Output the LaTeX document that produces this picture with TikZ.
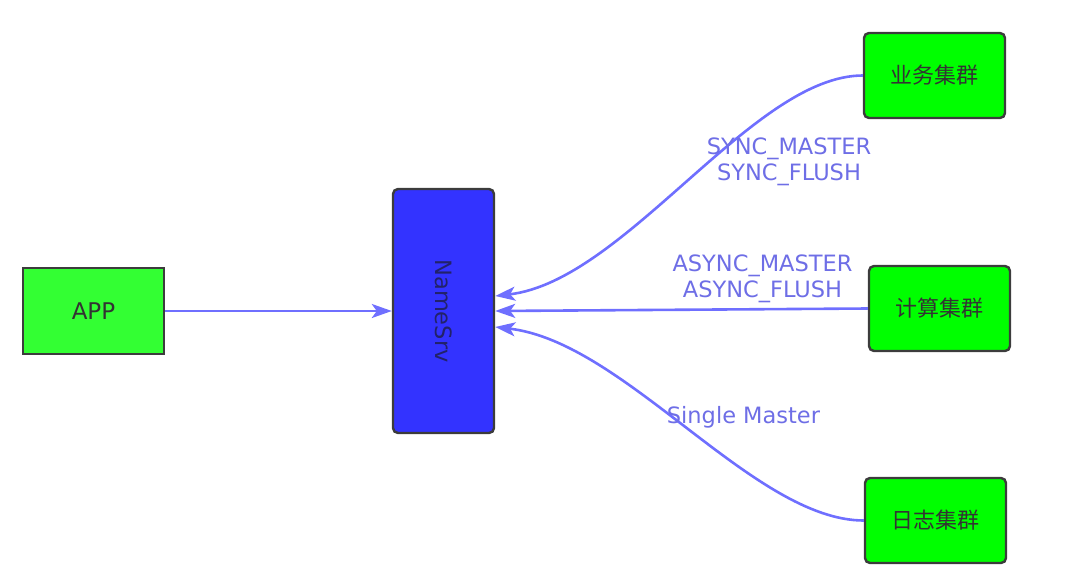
\documentclass[tikz,border=0pt]{standalone}
\usepackage{fontspec}
\usepackage{graphicx}
\setmainfont{DejaVu Sans}
\newfontfamily\cjkfont{Noto Sans CJK SC}
\usetikzlibrary{arrows.meta,calc}
\definecolor{mqGreen}{HTML}{00FF00}
\definecolor{mqAppGreen}{HTML}{33FF33}
\definecolor{mqBlue}{HTML}{3333FF}
\definecolor{mqLine}{HTML}{6F6FFF}
\definecolor{mqLabel}{HTML}{6E6EE6}
\definecolor{mqBorder}{HTML}{3C3C3C}
\definecolor{mqText}{HTML}{333333}
\definecolor{mqSrvText}{HTML}{22226A}
\tikzset{
  clusterbox/.style={rectangle, rounded corners=5pt, draw=mqBorder, fill=mqGreen, line width=2.4pt,
    minimum width=141pt, minimum height=85pt, font=\cjkfont\fontsize{22}{26}\selectfont, text=mqText, inner sep=0pt},
  appbox/.style={rectangle, draw=mqBorder, fill=mqAppGreen, line width=2.4pt,
    minimum width=141pt, minimum height=86pt, font=\fontsize{23}{27}\selectfont, text=mqText},
  srvbox/.style={rectangle, rounded corners=5pt, draw=mqBorder, fill=mqBlue, line width=2.4pt,
    minimum width=101pt, minimum height=244pt, font=\fontsize{22.5}{26}\selectfont, text=mqSrvText},
  linkline/.style={-{Stealth[length=20pt, width=14pt, inset=5pt]}, draw=mqLine, line width=2.6pt},
  linklab/.style={font=\fontsize{22.5}{25.5}\selectfont, text=mqLabel, align=center, inner sep=0pt}
}
\begin{document}
\begin{tikzpicture}[x=1pt, y=-1pt]
\useasboundingbox (0,0) rectangle (1080,579);
\node[appbox] (app) at (93.5,311) {APP};
\node[srvbox] (ns) at (443.5,311) {\rotatebox{-90}{NameSrv}};
\node[clusterbox] (biz) at (934.5,75.5) {业务集群};
\node[clusterbox] (calc) at (939.5,308.5) {计算集群};
\node[clusterbox] (log) at (935.5,520.5) {日志集群};

\coordinate (nsTop) at ($(ns.east)+(0,-15)$);
\coordinate (nsLow) at ($(ns.east)+(0,16)$);

\draw[linkline] (app) -- (ns);
\draw[linkline] (biz.west) .. controls +(-110,0) and +(130,-15) .. (nsTop);
\draw[linkline] (calc.west) -- (ns.east);
\draw[linkline] (log.west) .. controls +(-110,0) and +(130,15) .. (nsLow);

\node[linklab] (lsync) at (789,162) {SYNC\_MASTER\\SYNC\_FLUSH};
\node[linklab] (lasync) at (762.5,279) {ASYNC\_MASTER\\ASYNC\_FLUSH};
\node[linklab] (lsingle) at (743.5,417) {Single Master};
\end{tikzpicture}
\end{document}
